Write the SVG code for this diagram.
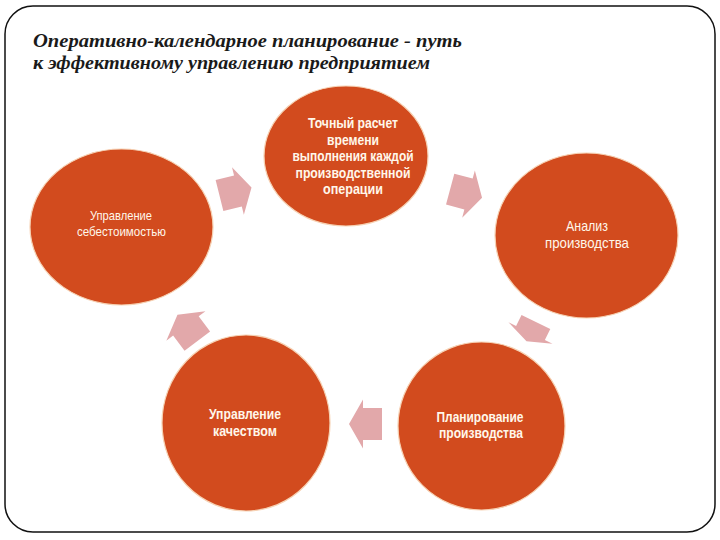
<svg xmlns="http://www.w3.org/2000/svg" xmlns:xlink="http://www.w3.org/1999/xlink" width="720" height="540" viewBox="0 0 720 540">
  <style>
    .node { fill: #d24b1e; stroke: #f6d2b4; stroke-width: 1.2; }
    .lbl { fill: #fff7ea; font-family: "Liberation Sans", Arial, sans-serif; font-size: 14.5px; text-anchor: middle; }
    .b { font-weight: bold; }
    .title { fill: #1a1a1a; font-family: "Liberation Serif", "DejaVu Serif", serif; font-style: italic; font-weight: bold; font-size: 18px; }
    .arrow { fill: #e2a8aa; }
  </style>
  <defs>
    <path id="blockArrow" d="M16.5,0 L2.5,-24.5 L2.5,-16 L-16.5,-16 L-16.5,16 L2.5,16 L2.5,24.5 Z"/>
  </defs>
  <rect x="5" y="6" width="710" height="526" rx="28" ry="28" fill="#ffffff" stroke="#111111" stroke-width="1.5"/>
  <g id="title">
    <text class="title" x="33" y="47" textLength="429" lengthAdjust="spacingAndGlyphs">Оперативно-календарное планирование - путь</text>
    <text class="title" x="33" y="69" textLength="397" lengthAdjust="spacingAndGlyphs">к эффективному управлению предприятием</text>
  </g>
  <g id="connectors" class="arrow">
    <use xlink:href="#blockArrow" href="#blockArrow" transform="translate(235.5,191.6) rotate(-14)"/>
    <use xlink:href="#blockArrow" href="#blockArrow" transform="translate(466.1,193.4) rotate(15)"/>
    <use xlink:href="#blockArrow" href="#blockArrow" transform="translate(531.2,331.6) rotate(116) scale(0.65,1)"/>
    <use xlink:href="#blockArrow" href="#blockArrow" transform="translate(365.5,424) rotate(180)"/>
    <use xlink:href="#blockArrow" href="#blockArrow" transform="translate(187.4,327.9) rotate(-127)"/>
  </g>
  <g id="node-raschet">
    <ellipse class="node" cx="346" cy="156" rx="82" ry="70"/>
    <text class="lbl b" style="font-size:14.5px"><tspan x="353" y="128" textLength="90" lengthAdjust="spacingAndGlyphs">Точный расчет</tspan><tspan x="353" y="144.5" textLength="52" lengthAdjust="spacingAndGlyphs">времени</tspan><tspan x="353" y="161" textLength="121" lengthAdjust="spacingAndGlyphs">выполнения каждой</tspan><tspan x="353" y="177.5" textLength="115" lengthAdjust="spacingAndGlyphs">производственной</tspan><tspan x="353" y="194" textLength="60" lengthAdjust="spacingAndGlyphs">операции</tspan></text>
  </g>
  <g id="node-analiz">
    <ellipse class="node" cx="586.5" cy="235.5" rx="91.5" ry="82.5"/>
    <text class="lbl"><tspan x="587" y="230.5" textLength="42" lengthAdjust="spacingAndGlyphs">Анализ</tspan><tspan x="587" y="248" textLength="84" lengthAdjust="spacingAndGlyphs">производства</tspan></text>
  </g>
  <g id="node-planirovanie">
    <ellipse class="node" cx="481.5" cy="426" rx="83.5" ry="84"/>
    <text class="lbl b" style="font-size:14.5px"><tspan x="480" y="421.5" textLength="87" lengthAdjust="spacingAndGlyphs">Планирование</tspan><tspan x="481" y="438" textLength="84" lengthAdjust="spacingAndGlyphs">производства</tspan></text>
  </g>
  <g id="node-kachestvo">
    <ellipse class="node" cx="246" cy="423" rx="84" ry="88"/>
    <text class="lbl b" style="font-size:14.5px"><tspan x="245" y="419" textLength="72" lengthAdjust="spacingAndGlyphs">Управление</tspan><tspan x="245" y="436" textLength="64" lengthAdjust="spacingAndGlyphs">качеством</tspan></text>
  </g>
  <g id="node-sebestoimost">
    <ellipse class="node" cx="121.5" cy="227" rx="91.5" ry="78"/>
    <text class="lbl" style="font-size:13px"><tspan x="121" y="220" textLength="62" lengthAdjust="spacingAndGlyphs">Управление</tspan><tspan x="121.5" y="236" textLength="89" lengthAdjust="spacingAndGlyphs">себестоимостью</tspan></text>
  </g>
</svg>
